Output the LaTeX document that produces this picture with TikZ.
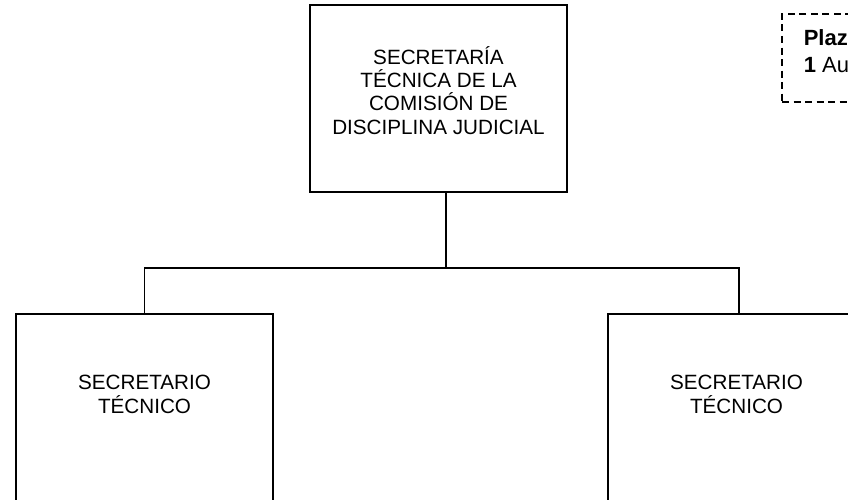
\documentclass[tikz,border=0pt]{standalone}
\usepackage{fontspec}
\setmainfont{Liberation Sans}
\begin{document}
\begin{tikzpicture}[x=0.75pt,y=-0.75pt,
  box/.style={draw=black, line width=1.2pt, inner sep=0pt, minimum width=192.75pt, minimum height=140.25pt},
  lbl/.style={inner sep=0pt, align=center, font=\fontsize{15.5}{17.5}\selectfont},
  conn/.style={draw=black, line width=1.2pt},
  legendbox/.style={draw=black, line width=0.9pt, dash pattern=on 5.25pt off 3.4pt, inner sep=0pt, minimum width=88.5pt, minimum height=66pt},
  ltxt/.style={inner sep=0pt, anchor=base west, font=\fontsize{16.5}{19}\selectfont}]
\useasboundingbox (0,0) rectangle (848,499);
\clip (0,0) rectangle (848,499);
% boxes
\node[box] (top) at (438.5,98.5) {};
\node[box] (left) at (144.5,407.5) {};
\node[box, minimum width=196.5pt] (right) at (739,407.5) {};
\node[legendbox] (legend) at (841,58) {};
% texts
\node[lbl] (toptxt) at (438.5,90.3) {SECRETARÍA\\TÉCNICA DE LA\\COMISIÓN DE\\DISCIPLINA JUDICIAL};
\node[lbl] (lefttxt) at (144.5,394.3) {SECRETARIO\\TÉCNICO};
\node[lbl] (righttxt) at (736.5,394.3) {SECRETARIO\\TÉCNICO};
\node[ltxt] (plaz) at (803.5,46) {\textbf{Plaz}};
\node[ltxt] (au) at (803.5,73) {\textbf{1} Au};
% connectors
\coordinate (bus) at (446,268);
\draw[conn] (top.south -| bus) -- (bus);
\draw[conn] (left.north) |- (bus) -| (right.north);
\end{tikzpicture}
\end{document}
